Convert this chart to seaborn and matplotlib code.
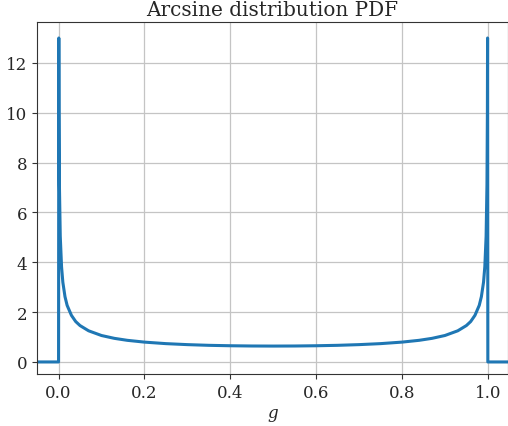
import matplotlib
matplotlib.use("Agg")
import matplotlib.pyplot as plt
import seaborn as sns
import pandas as pd

# Values (Arcsine PDF, with zero outside [0, 1])
g_left = [-0.05, 0.0, 0.0006, 0.001, 0.002, 0.004, 0.007, 0.01, 0.015, 0.02,
          0.03, 0.04, 0.05, 0.07, 0.1, 0.13, 0.16, 0.2, 0.25, 0.3, 0.35, 0.4,
          0.45, 0.5]
pdf_left = [0.0, 0.0, 13.0, 10.07, 7.12, 5.04, 3.82, 3.20, 2.62, 2.27,
            1.87, 1.62, 1.46, 1.25, 1.061, 0.947, 0.868, 0.796, 0.735, 0.695,
            0.667, 0.650, 0.640, 0.637]
g_right = [0.55, 0.6, 0.65, 0.7, 0.75, 0.8, 0.84, 0.87, 0.9, 0.93, 0.95,
           0.96, 0.97, 0.98, 0.985, 0.99, 0.993, 0.996, 0.998, 0.999, 0.9994,
           1.0, 1.05]
pdf_right = [0.640, 0.650, 0.667, 0.695, 0.735, 0.796, 0.868, 0.947, 1.061,
             1.25, 1.46, 1.62, 1.87, 2.27, 2.62, 3.20, 3.82, 5.04, 7.12, 10.07,
             13.0, 0.0, 0.0]

xticks = [0.0, 0.2, 0.4, 0.6, 0.8, 1.0]
yticks = [0, 2, 4, 6, 8, 10, 12]

df = pd.DataFrame({"g": g_left + g_right, "pdf": pdf_left + pdf_right})

sns.set_style("ticks")
plt.rcParams["font.family"] = ["DejaVu Serif"]
plt.rcParams["mathtext.fontset"] = "dejavuserif"

fig = plt.figure(figsize=(5.08, 4.27), dpi=100)
ax = fig.add_axes([0.073, 0.122, 0.927, 0.824])

sns.lineplot(data=df, x="g", y="pdf", ax=ax, sort=False, estimator=None,
             color="#1f77b4", linewidth=2.2)

ax.set_xlim(-0.05, 1.047)
ax.set_ylim(-0.48, 13.64)
ax.set_xticks(xticks)
ax.set_xticklabels([f"{t:.1f}" for t in xticks])
ax.set_yticks(yticks)
ax.set_yticklabels([str(t) for t in yticks])
ax.tick_params(labelsize=12, length=3.5, width=0.8, color="#333333")
ax.grid(True, color="#c4c4c4", linewidth=0.9)
for s in ax.spines.values():
    s.set_color("#333333")
    s.set_linewidth(0.8)
ax.set_xlabel("$g$", fontsize=12)
ax.set_ylabel("")
ax.set_title("Arcsine distribution PDF", fontsize=14.4, pad=5)

fig.savefig("out.png", dpi=100)
